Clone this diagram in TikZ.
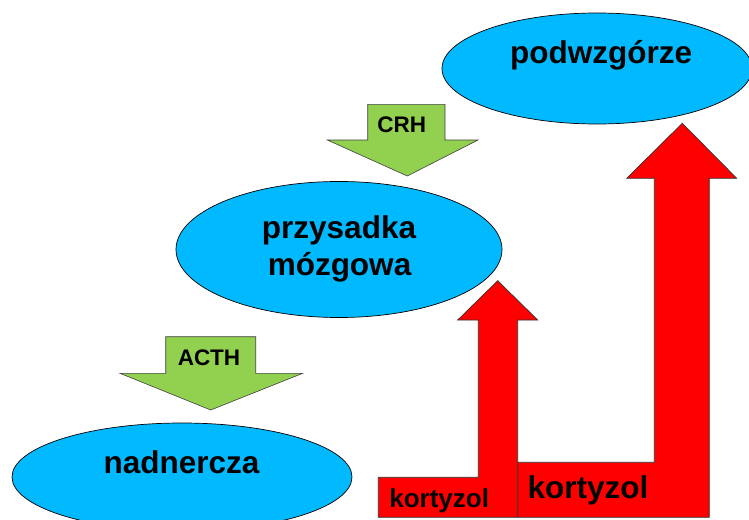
\documentclass[tikz,border=0pt]{standalone}
\usepackage{fontspec}
\setmainfont{Liberation Sans}
\usetikzlibrary{shapes.geometric}
\definecolor{organblue}{HTML}{00B9FF}
\definecolor{hormgreen}{HTML}{92D050}
\definecolor{fbred}{HTML}{FF0000}
\tikzset{
  organ/.style={ellipse, draw=black, line width=0.7pt, fill=organblue, inner sep=0pt},
  bigtxt/.style={font=\bfseries\fontsize{31.5}{37}\selectfont, anchor=base, inner sep=0pt, align=center},
  hormtxt/.style={font=\bfseries\fontsize{22.5}{26}\selectfont, anchor=base, inner sep=0pt},
  smalltxt/.style={font=\bfseries\fontsize{26}{30}\selectfont, anchor=base, inner sep=0pt},
  midtxt/.style={font=\bfseries\fontsize{31.5}{36}\selectfont, anchor=base, inner sep=0pt},
  greenarrow/.style={draw=black!75, line width=0.6pt, fill=hormgreen},
  redarrow/.style={draw=black!80, line width=0.7pt, fill=fbred, line join=miter},
}
\begin{document}
\begin{tikzpicture}[x=1pt,y=-1pt]
\useasboundingbox (0,0) rectangle (749,519);
\begin{scope}
\clip (0,0) rectangle (749,519);
% organs
\node[organ, minimum width=310pt, minimum height=111pt] (pod) at (597,68.5) {};
\node[organ, minimum width=326pt, minimum height=136pt] (prz) at (339,249.5) {};
\node[organ, minimum width=340pt, minimum height=108pt] (nad) at (182,477) {};
\node[bigtxt] (podt) at (601,63.5) {podwzgórze};
\node[bigtxt] (przt1) at (339,238.3) {przysadka};
\node[bigtxt] (przt2) at (339.5,275) {mózgowa};
\node[bigtxt] (nadt) at (181.5,473.3) {nadnercza};
% green arrows
\draw[greenarrow] (367.7,104.3) -- (445,104.3) -- (445,140) -- (478,140) -- (407.3,176)
  -- (327.3,140) -- (367.7,140) -- cycle;
\node[hormtxt] (crh) at (401.7,132.3) {CRH};
\draw[greenarrow] (165.7,336.7) -- (255.7,336.7) -- (255.7,373.3) -- (302.7,373.3) -- (210.7,410)
  -- (120,373.3) -- (165.7,373.3) -- cycle;
\node[hormtxt] (acth) at (209,365) {ACTH};
% red feedback arrows
\draw[redarrow] (517.7,517.3) -- (517.7,462.3) -- (654.3,462.3) -- (654.3,178.3) -- (626.7,178.3)
  -- (682.3,123.3) -- (736.7,178.3) -- (709.3,178.3) -- (709.3,517.3) -- cycle;
\draw[redarrow] (378.3,517.3) -- (378.3,477.3) -- (478.3,477.3) -- (478.3,320) -- (457.7,320)
  -- (497.7,280.7) -- (537.7,320) -- (517.7,320) -- (517.7,517.3) -- cycle;
\node[smalltxt] (k1) at (439.2,507.3) {kortyzol};
\node[midtxt] (k2) at (588,498.3) {kortyzol};
\end{scope}
\end{tikzpicture}
\end{document}
